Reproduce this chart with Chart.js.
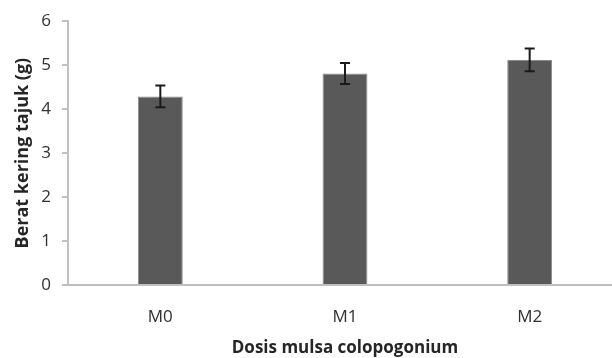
<!DOCTYPE html>
<html>
<head>
<meta charset="utf-8">
<script src="https://cdn.jsdelivr.net/npm/chart.js@4/dist/chart.umd.min.js"></script>
<style>
  html, body { margin: 0; padding: 0; background: #fff; overflow: hidden; }
  #wrap { width: 624px; height: 358px; }
</style>
</head>
<body>
<div id="wrap"><canvas id="c"></canvas></div>
<script>
const categories = ["M0", "M1", "M2"]
const means = [4.29, 4.81, 5.12]
const errors = [0.25, 0.24, 0.26]
const yTicks = [0, 1, 2, 3, 4, 5, 6]

// draws the whiskers from the y scale
const errorBars = {
  id: "errorBars",
  afterDatasetsDraw(chart) {
    const ctx = chart.ctx
    const y = chart.scales.y
    const meta = chart.getDatasetMeta(0)
    ctx.save()
    ctx.strokeStyle = "#1a1a1a"
    ctx.lineWidth = 2
    meta.data.forEach((bar, i) => {
      const top = y.getPixelForValue(means[i] + errors[i])
      const bot = y.getPixelForValue(means[i] - errors[i])
      ctx.beginPath()
      ctx.moveTo(bar.x, top)
      ctx.lineTo(bar.x, bot)
      ctx.moveTo(bar.x - 5, top)
      ctx.lineTo(bar.x + 5, top)
      ctx.moveTo(bar.x - 5, bot)
      ctx.lineTo(bar.x + 5, bot)
      ctx.stroke()
    })
    ctx.restore()
  }
}

new Chart(document.getElementById("c"), {
  type: "bar",
  data: {
    labels: categories,
    datasets: [{
      data: means,
      backgroundColor: "#595959",
      borderColor: "#8a8a8a",
      borderWidth: 1,
      barPercentage: 0.243,
      categoryPercentage: 1
    }]
  },
  options: {
    responsive: true,
    maintainAspectRatio: false,
    animation: false,
    layout: { padding: { top: 19, right: 2, bottom: 0, left: 12 } },
    plugins: { legend: { display: false }, tooltip: { enabled: false } },
    scales: {
      x: {
        afterFit: axis => { axis.height = 73 },
        grid: { display: false },
        border: { color: "#c0c0c0", width: 2 },
        ticks: { color: "#303030", font: { family: "Open Sans", size: 17 }, padding: 14 },
        title: {
          display: true,
          text: "Dosis mulsa colopogonium",
          color: "#262626",
          font: { family: "Open Sans", size: 17, weight: "bold" },
          padding: { top: 10, bottom: 0 }
        }
      },
      y: {
        min: 0,
        max: 6,
        afterBuildTicks: axis => { axis.ticks = yTicks.map(v => ({ value: v })) },
        afterFit: axis => { axis.width = 56 },
        grid: { drawOnChartArea: false, drawTicks: true, tickLength: 6, color: "#c0c0c0", lineWidth: 2 },
        border: { color: "#c0c0c0", width: 2 },
        ticks: { color: "#303030", font: { family: "Open Sans", size: 17 }, padding: 11 },
        title: {
          display: true,
          text: "Berat kering tajuk (g)",
          color: "#262626",
          font: { family: "Open Sans", size: 18, weight: "bold" },
          padding: { top: 0, bottom: 3 }
        }
      }
    }
  },
  plugins: [errorBars]
})
</script>
</body>
</html>
